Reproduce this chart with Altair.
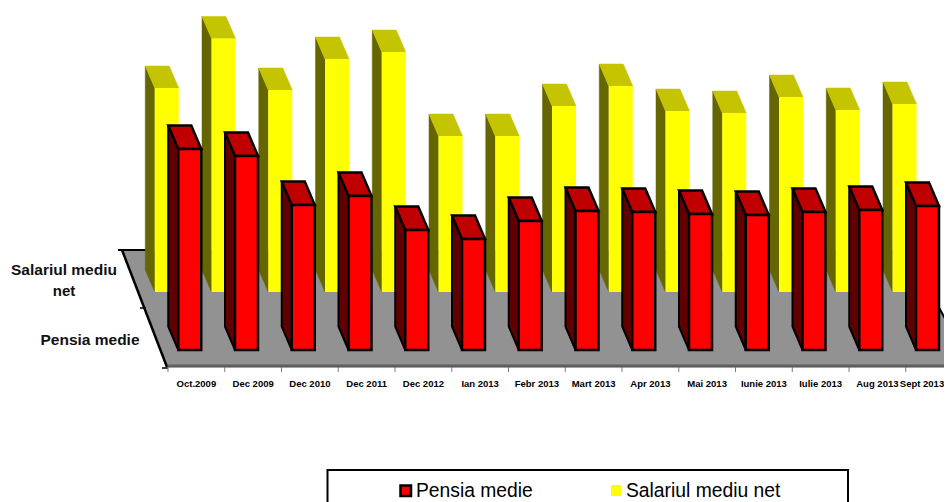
import altair as alt
import pandas as pd

categories = ["Oct.2009", "Dec 2009", "Dec 2010", "Dec 2011", "Dec 2012", "Ian 2013", "Febr 2013",
              "Mart 2013", "Apr 2013", "Mai 2013", "Iunie 2013", "Iulie 2013", "Aug 2013", "Sept 2013"]
pensia = [2010, 1940, 1450, 1540, 1200, 1110, 1290, 1390, 1380, 1360, 1350, 1380, 1400, 1440]
salariul = [2040, 2535, 2020, 2330, 2400, 1560, 1560, 1860, 2060, 1810, 1790, 1950, 1820, 1880]

W, H = 936, 494
PX = 56.75             # one category step, px
X0 = -3.0              # domain start, category units
xs = alt.Scale(domain=[X0, X0 + W / PX], nice=False, zero=False)
ys = alt.Scale(domain=[-1520, 3420], nice=False, zero=False)
def X(win): return (win - 8) / PX + X0
def Y(win): return (350 - win) * 10

RED_LEFT, RED_W = 0.0, 23 / PX
YEL_LEFT, YEL_W = -23.5 / PX, 24 / PX
RED_BASE, YEL_BASE = 0, 580
RED_DX, RED_DY = 10 / PX, 235
YEL_DX, YEL_DY = 9.5 / PX, 220


def faces(values, left, w, base, dx, dy):
    side, top, front = [], [], []
    for i, v in enumerate(values):
        l, r = left + i, left + i + w
        t = base + v
        for o, (a, b) in enumerate([(l - dx, base + dy), (l, base), (l, t), (l - dx, t + dy)]):
            side.append(dict(i=i, o=o, x=a, y=b))
        for o, (a, b) in enumerate([(l, t), (r, t), (r - dx, t + dy), (l - dx, t + dy)]):
            top.append(dict(i=i, o=o, x=a, y=b))
        front.append(dict(i=i, x=l, x2=r, y=base, y2=t))
    return pd.DataFrame(side), pd.DataFrame(top), pd.DataFrame(front)


def ex(): return alt.X("x:Q", scale=xs, axis=None)
def ey(): return alt.Y("y:Q", scale=ys, axis=None)


def poly(df, fill, **kw):
    return alt.Chart(df).mark_line(interpolate="linear-closed", fill=fill, clip=True, **kw).encode(
        x=ex(), y=ey(), detail="i:N", order="o:Q")


def rect(df, fill, **kw):
    return alt.Chart(df).mark_rect(fill=fill, clip=True, **kw).encode(
        x=ex(), x2="x2:Q", y=ey(), y2="y2:Q")


floor_df = pd.DataFrame([
    dict(i=0, o=0, x=X(122), y=Y(250)), dict(i=0, o=1, x=X(907), y=Y(250)),
    dict(i=0, o=2, x=X(972), y=Y(367)), dict(i=0, o=3, x=X(168), y=Y(367)),
])
floor = poly(floor_df, "#929292", stroke="#929292", strokeWidth=0.5)


def seg(pts, color, width):
    df = pd.DataFrame([dict(i=0, o=k, x=X(a), y=Y(b)) for k, (a, b) in enumerate(pts)])
    return alt.Chart(df).mark_line(color=color, strokeWidth=width, clip=True).encode(
        x=ex(), y=ey(), order="o:Q")


edges = [
    seg([(118, 250), (147, 250)], "#000000", 2),
    seg([(122, 250), (167, 367)], "#000000", 2.5),
    seg([(907, 250), (972, 367)], "#000000", 2),
    seg([(168, 366), (960, 366)], "#5f5f5f", 3),
    seg([(140, 308), (146, 308)], "#000000", 1.5),
    seg([(162, 368), (168, 368)], "#000000", 1.5),
]

tick_df = pd.DataFrame({"x": [X(168) + i for i in range(14)], "y": Y(367), "y2": Y(372)})
ticks = alt.Chart(tick_df).mark_rule(color="#7a7a7a", strokeWidth=1).encode(x=ex(), y=ey(), y2="y2:Q")

lab_df = pd.DataFrame({"x": [min(X(168) + i + 0.5, X(922)) for i in range(14)], "y": Y(384), "t": categories})
labels = alt.Chart(lab_df).mark_text(font="Liberation Sans", fontSize=9.5, fontWeight="bold",
                                     baseline="middle", color="#000000").encode(x=ex(), y=ey(), text="t:N")


def ylab(t, xw, yw, size):
    df = pd.DataFrame({"x": [X(xw)], "y": [Y(yw)], "t": [t]})
    return alt.Chart(df).mark_text(font="Liberation Sans", baseline="middle", fontSize=size,
                                   fontWeight="bold", color="#111111").encode(x=ex(), y=ey(), text="t:N")


ylabels = [ylab("Salariul mediu", 64, 270, 15.5), ylab("net", 64, 291, 15), ylab("Pensia medie", 90, 340, 15.5)]

ys_side, ys_top, ys_front = faces(salariul, YEL_LEFT, YEL_W, YEL_BASE, YEL_DX, YEL_DY)
rs_side, rs_top, rs_front = faces(pensia, RED_LEFT, RED_W, RED_BASE, RED_DX, RED_DY)

bars = [
    poly(ys_side, "#666600", stroke="#666600", strokeWidth=0.5),
    poly(ys_top, "#c4c400", stroke="#c4c400", strokeWidth=0.5),
    rect(ys_front, "#ffff00"),
    poly(rs_side, "#600000", stroke="#000000", strokeWidth=2),
    poly(rs_top, "#c00000", stroke="#000000", strokeWidth=2.5),
    rect(rs_front, "#ff0000", stroke="#000000", strokeWidth=2.5),
]

one = pd.DataFrame({"a": [0]})
box = alt.Chart(one).mark_rect(fill="#ffffff", stroke="#000000", strokeWidth=2).encode(
    x=alt.value(319.5), x2=alt.value(840), y=alt.value(462), y2=alt.value(520))
sw_red = alt.Chart(one).mark_rect(fill="#ff0000", stroke="#000000", strokeWidth=2.5).encode(
    x=alt.value(392.5), x2=alt.value(403), y=alt.value(477.5), y2=alt.value(488))
sw_yel = alt.Chart(one).mark_rect(fill="#ffff00").encode(
    x=alt.value(603), x2=alt.value(613), y=alt.value(477), y2=alt.value(488))
leg1 = alt.Chart(one).mark_text(text="Pensia medie", font="Liberation Sans", fontSize=19.3, align="left",
                                baseline="alphabetic", color="#000000").encode(x=alt.value(408), y=alt.value(489))
leg2 = alt.Chart(one).mark_text(text="Salariul mediu net", font="Liberation Sans", fontSize=19.3, align="left",
                                baseline="alphabetic", color="#000000").encode(x=alt.value(618), y=alt.value(489))

chart = alt.layer(floor, *edges, *bars, ticks, labels, *ylabels, box, sw_red, sw_yel, leg1, leg2).properties(
    width=W, height=H, padding=0, autosize=alt.AutoSizeParams(type="none")
).configure_view(stroke=None)

chart.save("out.html", embed_options={"renderer": "svg", "actions": False})
